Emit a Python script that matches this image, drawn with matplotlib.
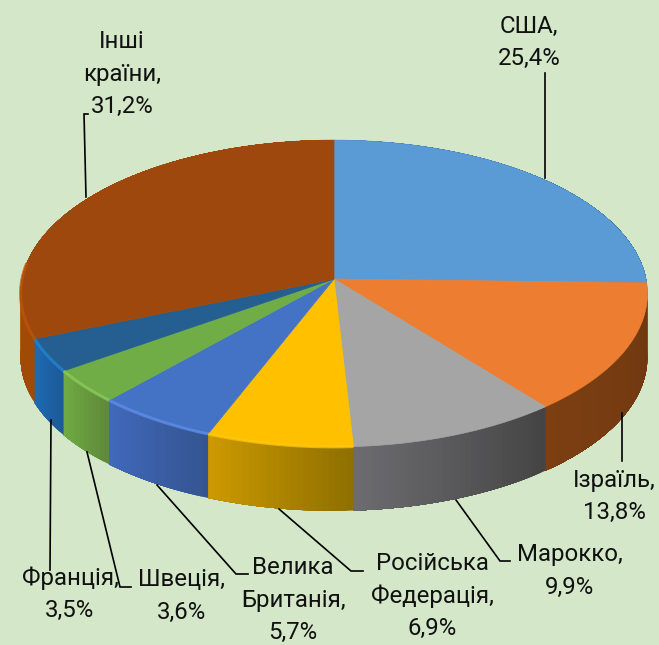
import numpy as np
import matplotlib
matplotlib.use('Agg')
import matplotlib.pyplot as plt
from matplotlib.colors import to_rgb

# Data
names = ['США', 'Ізраїль', 'Марокко', 'Російська\nФедерація', 'Велика\nБританія',
         'Швеція', 'Франція', 'Інші\nкраїни']
shares = [25.4, 13.8, 9.9, 6.9, 5.7, 3.6, 3.5, 31.2]

top_colors = ['#5b9bd5', '#ed7d31', '#a5a5a5', '#ffc000', '#4472c4', '#70ad47', '#255e91', '#9e480e']
# side wall shading, left end and right end of each slice as seen from the front
side_left = ['#2f5f8f', '#7c3f12', '#6c6c70', '#cc9900', '#4069bb', '#6fab42', '#1c6cb4', '#b05006']
side_right = ['#2f5f8f', '#6e3610', '#444444', '#8f7000', '#355592', '#5f8a3a', '#1d5a98', '#a04a05']
rim_colors = [None, None, None, '#ffc810', '#5f90e8', '#8ccc5c', '#2088d4', '#c05508']

# Label placement: x, y of the text block and the leader line
label_pos = [(529, 42), (614, 496), (570, 571), (432, 596), (293, 600), (181, 596), (70, 594), (122, 74)]
leaders = [
    [(545, 178), (545, 73)],
    [(622, 413), (622, 461)],
    [(456, 500), (500, 561), (510, 561)],
    [(279, 509), (351, 571), (363, 571)],
    [(157, 485), (236, 574), (248, 574)],
    [(87, 452), (120, 587), (131, 587)],
    [(51, 420), (50, 570)],
    [(86, 197), (84, 114), (88, 114)],
]

bg = '#d4e8c9'
cx, cy = 334, 279
R, A, k = 312, 152, 0.0945
depth = 64


# Perspective view of the pie, angle measured clockwise from 12 o'clock
def project(deg):
    t = np.radians(deg)
    u, v = np.sin(t), np.cos(t)
    w = 1 + k * v
    return cx + R * u / w, cy - A * v / w


fig = plt.figure(figsize=(6.59, 6.45), dpi=100, facecolor=bg)
ax = fig.add_axes([0, 0, 1, 1])
ax.set_xlim(0, 659)
ax.set_ylim(645, 0)
ax.axis('off')

edges = np.concatenate([[0], np.cumsum(shares)]) / sum(shares) * 360

# Side wall first. Each strip runs to the end of the slice and the next one
# paints over it, so no seams show through
for i in range(len(shares)):
    a0, a1 = edges[i], edges[i + 1]
    n = max(int((a1 - a0) / 1.0), 2)
    steps = np.linspace(a0, a1, n + 1)
    c_l, c_r = np.array(to_rgb(side_left[i])), np.array(to_rgb(side_right[i]))
    for j in range(n):
        seg = np.linspace(steps[j], a1, 2 + 2 * (n - j))
        x, y = project(seg)
        col = c_r + (c_l - c_r) * j / max(n - 1, 1)
        ax.fill(np.r_[x, x[::-1]], np.r_[y, y[::-1] + depth], color=col, lw=0, zorder=1)

# Top face
for i in range(len(shares)):
    seg = np.linspace(edges[i], edges[i + 1], 120)
    x, y = project(seg)
    ax.fill(np.r_[cx, x], np.r_[cy, y], color=top_colors[i], lw=0.5, zorder=2)
    if rim_colors[i]:
        front = seg[np.cos(np.radians(seg)) < 0.12]
        xr, yr = project(front)
        ax.plot(xr, yr, color=rim_colors[i], alpha=0.75, lw=2.2, zorder=3, solid_capstyle='butt')

# Labels
for i in range(len(shares)):
    txt = names[i] + ',\n' + f'{shares[i]:.1f}'.replace('.', ',') + '%'
    ax.text(label_pos[i][0], label_pos[i][1], txt, ha='center', va='center', family='Roboto',
            fontsize=17.3, color='#111111', linespacing=1.5, zorder=5)
    pts = np.array(leaders[i])
    ax.plot(pts[:, 0], pts[:, 1], color='black', lw=1.2, zorder=4, solid_joinstyle='miter')

fig.savefig('out.png', dpi=100, facecolor=bg)
